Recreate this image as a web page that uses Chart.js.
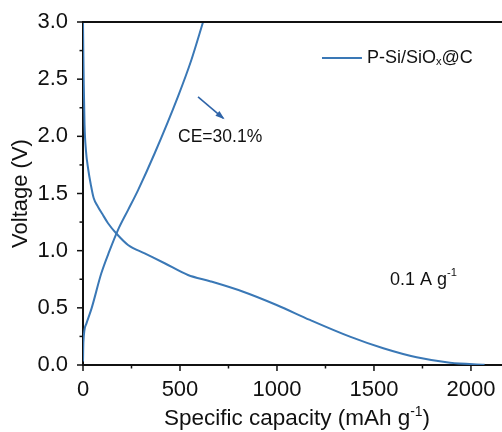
<!DOCTYPE html>
<html>
<head>
<meta charset="utf-8">
<script src="https://cdn.jsdelivr.net/npm/chart.js@4/dist/chart.umd.min.js"></script>
<style>
  html, body { margin: 0; padding: 0; background: #fff; }
  #wrap { width: 502px; height: 432px; }
</style>
</head>
<body>
<div id="wrap"><canvas id="gcd"></canvas></div>
<script>
const dischargeCap = [0, 2, 4, 8, 15, 27, 40, 55, 77, 100, 129, 172, 232, 318, 421, 541, 655, 826, 998, 1170, 1376, 1548, 1720, 1892, 2070];
const dischargeV = [3.0, 2.7, 2.45, 2.1, 1.88, 1.71, 1.58, 1.46, 1.385, 1.32, 1.24, 1.15, 1.05, 0.977, 0.89, 0.787, 0.733, 0.641, 0.525, 0.394, 0.248, 0.146, 0.067, 0.02, 0.003];
const chargeCap = [0, 2, 17, 45, 94, 137, 180, 232, 284, 369, 490, 559, 619];
const chargeV = [0.03, 0.2, 0.36, 0.5, 0.8, 1.0, 1.18, 1.355, 1.53, 1.85, 2.35, 2.67, 3.0];

const xTicks = [0, 500, 1000, 1500, 2000];
const yTicks = [0.0, 0.5, 1.0, 1.5, 2.0, 2.5, 3.0];

const lineColor = "#3a78b6";
const font = "Liberation Sans, Arial, sans-serif";

const toPoints = (xs, ys) => xs.map((x, i) => ({ x: x, y: ys[i] }));

// text with a small raised or lowered part
function drawRich(ctx, parts, x, y, size) {
  let cx = x;
  parts.forEach(p => {
    const s = p.mode ? size * 0.62 : size;
    ctx.font = s + "px " + font;
    let dy = 0;
    if (p.mode === "sup") dy = -size * 0.38;
    if (p.mode === "sub") dy = size * 0.25;
    ctx.fillText(p.t, cx, y + dy);
    cx += ctx.measureText(p.t).width;
  });
}

const decorPlugin = {
  id: "decor",
  afterDraw(chart) {
    const ctx = chart.ctx;
    const xs = chart.scales.x;
    const ys = chart.scales.y;
    const a = chart.chartArea;
    ctx.save();
    ctx.strokeStyle = "#111";
    ctx.lineWidth = 2;
    // top frame line
    ctx.beginPath();
    ctx.moveTo(a.left, a.top);
    ctx.lineTo(502, a.top);
    ctx.stroke();
    // ticks
    ctx.lineWidth = 1.5;
    for (let v = 0; v <= 2150; v += 250) {
      const px = xs.getPixelForValue(v);
      const len = v % 500 === 0 ? 6 : 3.5;
      ctx.beginPath();
      ctx.moveTo(px, a.bottom);
      ctx.lineTo(px, a.bottom + len);
      ctx.stroke();
    }
    for (let v = 0; v <= 3.001; v += 0.25) {
      const py = ys.getPixelForValue(v);
      const len = Math.round(v * 4) % 2 === 0 ? 6 : 3.5;
      ctx.beginPath();
      ctx.moveTo(a.left, py);
      ctx.lineTo(a.left - len, py);
      ctx.stroke();
    }

    ctx.fillStyle = "#111";
    ctx.textBaseline = "middle";
    ctx.textAlign = "left";
    // legend
    const ly = ys.getPixelForValue(2.686);
    ctx.strokeStyle = lineColor;
    ctx.lineWidth = 2;
    ctx.beginPath();
    ctx.moveTo(xs.getPixelForValue(1232), ly);
    ctx.lineTo(xs.getPixelForValue(1438), ly);
    ctx.stroke();
    drawRich(ctx, [{ t: "P-Si/SiO" }, { t: "x", mode: "sub" }, { t: "@C" }], xs.getPixelForValue(1464), ly, 18);

    // CE label and arrow
    ctx.font = "17.5px " + font;
    ctx.fillText("CE=30.1%", xs.getPixelForValue(490), ys.getPixelForValue(1.995));
    const ax0 = xs.getPixelForValue(593), ay0 = ys.getPixelForValue(2.345);
    const ax1 = xs.getPixelForValue(722), ay1 = ys.getPixelForValue(2.16);
    ctx.strokeStyle = "#2f64a8";
    ctx.fillStyle = "#2f64a8";
    ctx.lineWidth = 1.6;
    ctx.beginPath();
    ctx.moveTo(ax0, ay0);
    ctx.lineTo(ax1, ay1);
    ctx.stroke();
    const ang = Math.atan2(ay1 - ay0, ax1 - ax0);
    ctx.beginPath();
    ctx.moveTo(ax1 + 2 * Math.cos(ang), ay1 + 2 * Math.sin(ang));
    ctx.lineTo(ax1 - 8 * Math.cos(ang - 0.4), ay1 - 8 * Math.sin(ang - 0.4));
    ctx.lineTo(ax1 - 8 * Math.cos(ang + 0.4), ay1 - 8 * Math.sin(ang + 0.4));
    ctx.closePath();
    ctx.fill();

    // current density
    ctx.fillStyle = "#111";
    drawRich(ctx, [{ t: "0.1 A g" }, { t: "-1", mode: "sup" }], xs.getPixelForValue(1582), ys.getPixelForValue(0.744), 18);

    // x axis title
    ctx.textBaseline = "alphabetic";
    const parts = [{ t: "Specific capacity (mAh g" }, { t: "-1", mode: "sup" }, { t: ")" }];
    let w = 0;
    parts.forEach(p => {
      ctx.font = (p.mode ? 22.5 * 0.62 : 22.5) + "px " + font;
      w += ctx.measureText(p.t).width;
    });
    drawRich(ctx, parts, 297 - w / 2, 425, 22.5);
    ctx.restore();
  }
};

new Chart(document.getElementById("gcd"), {
  type: "scatter",
  data: {
    datasets: [
      {
        label: "discharge",
        data: toPoints(dischargeCap, dischargeV),
        showLine: true,
        borderColor: lineColor,
        borderWidth: 2,
        pointRadius: 0,
        cubicInterpolationMode: "monotone",
      },
      {
        label: "charge",
        data: toPoints(chargeCap, chargeV),
        showLine: true,
        borderColor: lineColor,
        borderWidth: 2,
        pointRadius: 0,
        cubicInterpolationMode: "monotone",
      },
    ],
  },
  options: {
    responsive: true,
    maintainAspectRatio: false,
    animation: false,
    layout: { padding: { top: 22, right: -4, left: 0, bottom: 0 } },
    plugins: {
      legend: { display: false },
      tooltip: { enabled: false },
    },
    scales: {
      x: {
        type: "linear",
        min: 0,
        max: 2160,
        afterBuildTicks: s => { s.ticks = xTicks.map(v => ({ value: v })); },
        afterFit: s => { s.height = 67; },
        grid: { display: false },
        border: { display: true, color: "#111", width: 2 },
        ticks: {
          color: "#111",
          font: { family: font, size: 22 },
          padding: 4,
          maxRotation: 0,
          callback: v => String(v),
        },
      },
      y: {
        min: 0,
        max: 3,
        afterBuildTicks: s => { s.ticks = yTicks.map(v => ({ value: v })); },
        afterFit: s => { s.width = 83; },
        grid: { display: false },
        border: { display: true, color: "#111", width: 2 },
        ticks: {
          color: "#111",
          font: { family: font, size: 22 },
          padding: 7,
          callback: v => v.toFixed(1),
        },
        title: {
          display: true,
          text: "Voltage (V)",
          color: "#111",
          font: { family: font, size: 22 },
          padding: { top: 8, bottom: 0 },
        },
      },
    },
  },
  plugins: [decorPlugin],
});
</script>
</body>
</html>
